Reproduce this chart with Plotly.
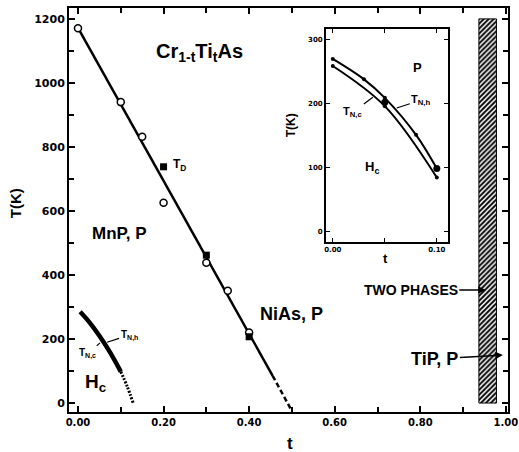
import plotly.graph_objects as go

# ---- data ----
open_t = [0.0, 0.10, 0.15, 0.20, 0.30, 0.35, 0.40]
open_T = [1171, 940, 832, 626, 438, 351, 220]
sq_t = [0.20, 0.30, 0.40]
sq_T = [738, 462, 207]
line_t = [0.0, 0.455]
line_T = [1172, 85]
dash_t = [0.455, 0.50]
dash_T = [85, -25]
tn_t = [0.005, 0.025, 0.05, 0.075, 0.10]
tn_T = [285, 255, 210, 158, 98]
tn_dot_t = [0.10, 0.115, 0.129]
tn_dot_T = [98, 52, 0]
phase_t = [0.9575]
phase_T = [1200]
in_h_t = [0.0, 0.03, 0.05, 0.08, 0.10]
in_h_T = [270, 238, 209, 151, 98]
in_c_t = [0.0, 0.05, 0.10]
in_c_T = [259, 196, 84]
big_t = [0.05, 0.10]
big_T = [202, 98]

x_ticks = [0.0, 0.2, 0.4, 0.6, 0.8, 1.0]
x_ticktext = ["0.00", "0.20", "0.40", "0.60", "0.80", "1.00"]
y_ticks = [0, 200, 400, 600, 800, 1000, 1200]
in_x_ticks = [0.0, 0.10]
in_x_ticktext = ["0.00", "0.10"]
in_y_ticks = [0, 100, 200, 300]

BF = "Liberation Sans, Arial, sans-serif"
TF = "DejaVu Sans, sans-serif"

fig = go.Figure()

fig.add_trace(go.Bar(x=phase_t, y=phase_T, width=0.041, base=0,
                     marker=dict(color="white", line=dict(color="black", width=1),
                                 pattern=dict(shape="/", fgcolor="black", bgcolor="white",
                                              size=3.5, solidity=0.55)),
                     showlegend=False, hoverinfo="skip"))
fig.add_trace(go.Scatter(x=line_t, y=line_T, mode="lines",
                         line=dict(color="black", width=2.5), showlegend=False))
fig.add_trace(go.Scatter(x=dash_t, y=dash_T, mode="lines",
                         line=dict(color="black", width=2.5, dash="5px,3px"), showlegend=False))
fig.add_trace(go.Scatter(x=open_t, y=open_T, mode="markers",
                         marker=dict(symbol="circle", size=7, color="white",
                                     line=dict(color="black", width=1.5)), showlegend=False))
fig.add_trace(go.Scatter(x=sq_t, y=sq_T, mode="markers",
                         marker=dict(symbol="square", size=7, color="black"), showlegend=False))
fig.add_trace(go.Scatter(x=tn_t, y=tn_T, mode="lines", line_shape="spline",
                         line=dict(color="black", width=4.5), showlegend=False))
fig.add_trace(go.Scatter(x=tn_dot_t, y=tn_dot_T, mode="lines", line_shape="spline",
                         line=dict(color="black", width=3, dash="2px,1.5px"), showlegend=False))

# inset
fig.add_trace(go.Scatter(x=in_h_t, y=in_h_T, mode="lines+markers", line_shape="spline",
                         line=dict(color="black", width=2), marker=dict(size=4, color="black"),
                         xaxis="x2", yaxis="y2", showlegend=False))
fig.add_trace(go.Scatter(x=in_c_t, y=in_c_T, mode="lines+markers", line_shape="spline",
                         line=dict(color="black", width=2), marker=dict(size=4, color="black"),
                         xaxis="x2", yaxis="y2", showlegend=False))
fig.add_trace(go.Scatter(x=big_t, y=big_T, mode="markers",
                         marker=dict(size=7, color="black"),
                         xaxis="x2", yaxis="y2", showlegend=False))

axis_common = dict(showgrid=False, zeroline=False, showline=True, linecolor="black",
                   mirror="ticks", ticks="inside", tickcolor="black", automargin=False)

fig.update_layout(
    template="none",
    width=519, height=452,
    margin=dict(l=69, r=11, t=8, b=40, pad=0),
    paper_bgcolor="white", plot_bgcolor="white",
    xaxis=dict(**axis_common, range=[-0.021, 1.005], tickvals=x_ticks, ticktext=x_ticktext,
               ticklen=6, tickwidth=1.5, linewidth=2, ticklabeloverflow="allow",
               minor=dict(dtick=0.1, ticks="inside", ticklen=5, tickcolor="black", tickwidth=1.5),
               tickfont=dict(family=TF, size=10, color="black", weight="bold")),
    yaxis=dict(**axis_common, range=[-28, 1234], tickvals=y_ticks,
               ticklen=6, tickwidth=1.5, linewidth=2,
               minor=dict(dtick=100, ticks="inside", ticklen=5, tickcolor="black", tickwidth=1.5),
               tickfont=dict(family=TF, size=11, color="black", weight="bold")),
    xaxis2=dict(**axis_common, domain=[0.585, 0.863], anchor="y2", range=[-0.0067, 0.1106],
                tickvals=in_x_ticks, ticktext=in_x_ticktext, ticklen=4, tickwidth=1.2, linewidth=1.5,
                minor=dict(dtick=0.05, ticks="inside", ticklen=4, tickcolor="black", tickwidth=1.2),
                tickfont=dict(family=TF, size=7, color="black", weight="bold")),
    yaxis2=dict(**axis_common, domain=[0.421, 0.948], anchor="x2", range=[-17, 317],
                tickvals=in_y_ticks, ticklen=4, tickwidth=1.2, linewidth=1.5,
                tickfont=dict(family=TF, size=7, color="black", weight="bold")),
    showlegend=False,
)

def txt(x, y, s, size, xref="x", yref="y", **kw):
    kw.setdefault("xanchor", "center")
    kw.setdefault("yanchor", "middle")
    fig.add_annotation(x=x, y=y, xref=xref, yref=yref, text=s, showarrow=False,
                       font=dict(family=BF, size=size, color="black", weight="bold"), **kw)

# main labels
txt(-0.123, 0.517, "T(K)", 15, xref="paper", yref="paper", textangle=-90)
txt(0.503, -0.077, "t", 17, xref="paper", yref="paper")
txt(0.283, 1095, "Cr<sub>1-t</sub>Ti<sub>t</sub>As", 20)
txt(0.217, 745, "T<sub>D</sub>", 12, xanchor="left")
txt(0.096, 530, "MnP, P", 17)
txt(0.50, 278, "NiAs, P", 18)
txt(0.04, 62, "H<sub>c</sub>", 19)

def leader(x, y, s, size, ax, ay, xref="x", yref="y", head=0, aw=1.2):
    fig.add_annotation(x=x, y=y, xref=xref, yref=yref, text=s, showarrow=True,
                       arrowhead=head, arrowsize=1, arrowwidth=aw, arrowcolor="black",
                       ax=ax, ay=ay, standoff=0,
                       font=dict(family=BF, size=size, color="black", weight="bold"))

leader(0.068, 190, "T<sub>N,h</sub>", 10, 22, -7)
leader(0.0514, 188, "T<sub>N,c</sub>", 10, -12, 11)
leader(0.953, 353, "TWO PHASES", 14, -75, 0, head=2, aw=1.5)
leader(0.993, 150, "TiP, P", 18, -68, 4, head=2, aw=1.5)

# inset labels
txt(0.506, 0.710, "T(K)", 12, xref="paper", yref="paper", textangle=-90)
txt(0.720, 0.381, "t", 13, xref="paper", yref="paper")
txt(0.081, 257, "P", 13, xref="x2", yref="y2")
txt(0.0375, 100, "H<sub>c</sub>", 13, xref="x2", yref="y2")
leader(0.0385, 210, "T<sub>N,c</sub>", 11, -20, 15, xref="x2", yref="y2")
leader(0.0615, 193, "T<sub>N,h</sub>", 11, 24, -8, xref="x2", yref="y2")

fig.write_html("out.html", config={"displayModeBar": False},
               post_script="document.body.style.margin='0px';")
